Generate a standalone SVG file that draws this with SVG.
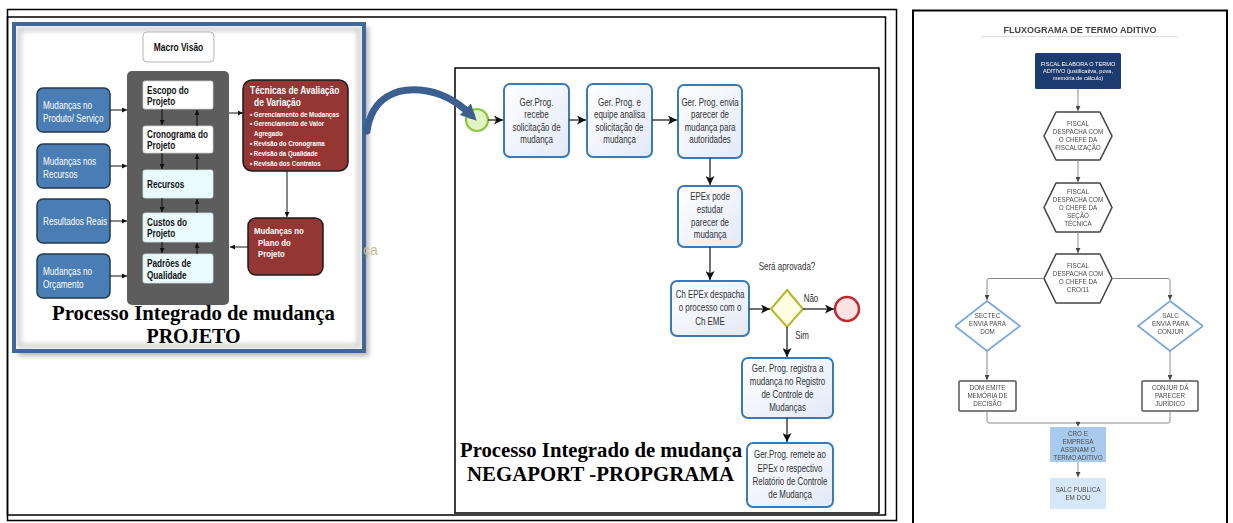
<svg xmlns="http://www.w3.org/2000/svg" width="1233" height="523" viewBox="0 0 1233 523">
  <defs>
    <style>
      .frame{fill:none;stroke:#000;stroke-width:1.5}
      .cal{font-family:"Liberation Sans",Arial,sans-serif}
      .calb{font-family:"Liberation Sans",Arial,sans-serif;font-weight:bold}
      .nl{transform-box:fill-box;transform-origin:0 50%;transform:scaleX(0.82)}
      .nc{transform-box:fill-box;transform-origin:50% 50%;transform:scaleX(0.78)}
      .serif{font-family:"Liberation Serif","Times New Roman",serif;font-weight:bold;font-size:20px;fill:#000}
      .inbox{fill:#fff;stroke:#cfcfcf;stroke-width:0.8}
      .inbox2{fill:#e9fbfd;stroke:#cfe3e6;stroke-width:0.8}
      .bluebox{fill:#4a7db3;stroke:#24384f;stroke-width:1.5}
      .bluetxt{font-size:10px;fill:#fff}
      .darkin{font-size:10px;fill:#111}
      .redbox{fill:#943634;stroke:#1a1a1a;stroke-width:1.5}
      .redtxt{fill:#fff}
      .thin{stroke:#111;stroke-width:1;fill:none}
      .step{fill:url(#stepfill);stroke:#3a7ab8;stroke-width:2}
      .steptxt{font-size:10.2px;fill:#333;text-anchor:middle}
      .flow{stroke:#333;stroke-width:1.4;fill:none}
      .rtxt{font-family:"Liberation Sans",Arial,sans-serif;font-size:6.3px;fill:#4a4a4a;text-anchor:middle}
      .wtxt{fill:#fff;font-size:5.6px}
      .hex{fill:#fff;stroke:#444;stroke-width:1.6;stroke-linejoin:round}
      .dia{fill:#fff;stroke:#74a3dc;stroke-width:1.6}
      .rbox{fill:#fff;stroke:#555;stroke-width:1.5}
      .rline{stroke:#8a8a8a;stroke-width:1;fill:none}
    </style>
    <linearGradient id="stepfill" x1="0" y1="0" x2="1" y2="1">
      <stop offset="0" stop-color="#ffffff"/>
      <stop offset="1" stop-color="#e3e9f8"/>
    </linearGradient>
    <filter id="soft" x="-10%" y="-10%" width="120%" height="120%">
      <feGaussianBlur stdDeviation="2.5"/>
    </filter>
    <filter id="haze" x="0" y="0" width="100%" height="100%">
      <feGaussianBlur stdDeviation="0.45"/>
    </filter>
    <marker id="ahSmall" viewBox="0 0 6 6" refX="6" refY="3" markerWidth="5" markerHeight="5" orient="auto" markerUnits="userSpaceOnUse">
      <path d="M0,0 L6,3 L0,6 z" fill="#111"/>
    </marker>
    <marker id="ah" viewBox="0 0 8 8" refX="8" refY="4" markerWidth="9" markerHeight="9" orient="auto" markerUnits="userSpaceOnUse">
      <path d="M0,0 L8,4 L0,8 L2,4 z" fill="#111"/>
    </marker>
    <marker id="ahR" viewBox="0 0 6 6" refX="6" refY="3" markerWidth="5" markerHeight="5" orient="auto" markerUnits="userSpaceOnUse">
      <path d="M0,0 L6,3 L0,6 z" fill="#444"/>
    </marker>
    <marker id="ahBig" viewBox="0 0 10 10" refX="5" refY="5" markerWidth="16" markerHeight="16" orient="auto" markerUnits="userSpaceOnUse">
      <path d="M0,0 L10,5 L0,10 z" fill="#3b5f8f"/>
    </marker>
  </defs>

  <rect width="1233" height="523" fill="#fff"/>

  <!-- outer double frame of the left sheet -->
  <rect class="frame" x="7.5" y="9.5" width="889" height="511"/>
  <rect class="frame" x="7.5" y="17" width="878" height="498"/>

  <!-- ===== PROJETO panel ===== -->
  <g id="projeto-panel">
    <rect x="18" y="27" width="351" height="329" fill="#9a9a9a" filter="url(#soft)" opacity="0.7"/>
    <rect x="14" y="24" width="350" height="327" fill="#fff"/>
    <rect x="19" y="29" width="340" height="317" fill="none" stroke="#c8c8c8" stroke-width="4" filter="url(#soft)"/>
    <rect x="14" y="24" width="350" height="327" fill="none" stroke="#3f6797" stroke-width="4"/>
    <text x="363" y="255" font-family="Liberation Sans,sans-serif" font-size="14" fill="#cbbd92">ça</text>
  </g>

  <g id="macro-visao">
    <rect x="143" y="32" width="71" height="30" rx="4" fill="#fff" stroke="#b5b5b5" stroke-width="1"/>
    <text class="calb nc" x="178.5" y="51" font-size="10.8" text-anchor="middle" fill="#111">Macro Visão</text>
  </g>

  <g id="core-column">
    <rect x="127" y="71" width="102" height="234" rx="5" fill="#5d5d5d"/>
  </g>
  <g id="escopo">
    <rect class="inbox" x="143" y="81" width="70" height="28" rx="2"/>
    <text class="calb darkin nl" x="147" y="94">Escopo do</text>
    <text class="calb darkin nl" x="147" y="105">Projeto</text>
  </g>
  <g id="cronograma">
    <rect class="inbox" x="143" y="126" width="70" height="27" rx="2"/>
    <text class="calb darkin nl" x="147" y="138">Cronograma do</text>
    <text class="calb darkin nl" x="147" y="149">Projeto</text>
  </g>
  <g id="recursos">
    <rect class="inbox2" x="143" y="170" width="70" height="28" rx="2"/>
    <text class="calb darkin nl" x="147" y="188">Recursos</text>
  </g>
  <g id="custos">
    <rect class="inbox2" x="143" y="213" width="70" height="29" rx="2"/>
    <text class="calb darkin nl" x="147" y="226">Custos do</text>
    <text class="calb darkin nl" x="147" y="237">Projeto</text>
  </g>
  <g id="padroes">
    <rect class="inbox2" x="143" y="254" width="70" height="29" rx="2"/>
    <text class="calb darkin nl" x="147" y="267">Padrões de</text>
    <text class="calb darkin nl" x="147" y="279">Qualidade</text>
  </g>

  <g id="mud-produto">
    <rect class="bluebox" x="37" y="88" width="73" height="44" rx="6"/>
    <text class="cal bluetxt nl" x="43" y="109">Mudanças no</text>
    <text class="cal bluetxt nl" x="43" y="122">Produto/ Serviço</text>
  </g>
  <g id="mud-recursos">
    <rect class="bluebox" x="37" y="144" width="73" height="44" rx="6"/>
    <text class="cal bluetxt nl" x="43" y="165">Mudanças nos</text>
    <text class="cal bluetxt nl" x="43" y="178">Recursos</text>
  </g>
  <g id="resultados">
    <rect class="bluebox" x="37" y="199" width="73" height="44" rx="6"/>
    <text class="cal bluetxt nl" x="43" y="225">Resultados Reais</text>
  </g>
  <g id="mud-orcamento">
    <rect class="bluebox" x="37" y="254" width="73" height="44" rx="6"/>
    <text class="cal bluetxt nl" x="43" y="275">Mudanças no</text>
    <text class="cal bluetxt nl" x="43" y="288">Orçamento</text>
  </g>

  <g id="tecnicas">
    <rect class="redbox" x="243" y="80" width="105" height="91" rx="9"/>
    <text class="calb redtxt nl" x="250" y="94" font-size="10.3">Técnicas de Avaliação</text>
    <text class="calb redtxt nl" x="254" y="106" font-size="10.3">de Variação</text>
    <g font-size="7.5">
      <text class="calb redtxt nl" x="250" y="117">• Gerenciamento de Mudanças</text>
      <text class="calb redtxt nl" x="250" y="126.5">• Gerenciamento de Valor</text>
      <text class="calb redtxt nl" x="254" y="136">Agregado</text>
      <text class="calb redtxt nl" x="250" y="146.5">• Revisão do Cronograma</text>
      <text class="calb redtxt nl" x="250" y="156.5">• Revisão da Qualidade</text>
      <text class="calb redtxt nl" x="250" y="166.5">• Revisão dos Contratos</text>
    </g>
  </g>
  <g id="mud-plano">
    <rect class="redbox" x="248" y="218" width="75" height="57" rx="8"/>
    <text class="calb redtxt nl" x="254" y="234.5" font-size="9.5">Mudanças no</text>
    <text class="calb redtxt nl" x="258" y="246" font-size="9.5">Plano do</text>
    <text class="calb redtxt nl" x="258" y="257.5" font-size="9.5">Projeto</text>
  </g>

  <g id="projeto-caption">
    <text class="serif" x="52" y="320" textLength="283" lengthAdjust="spacingAndGlyphs">Processo Integrado de mudança</text>
    <text class="serif" x="193.5" y="343" text-anchor="middle">PROJETO</text>
  </g>

  <!-- connectors of the PROJETO panel -->
  <g id="projeto-connectors">
    <line class="thin" x1="110" y1="110" x2="127" y2="110" marker-end="url(#ahSmall)"/>
    <line class="thin" x1="110" y1="166" x2="127" y2="166" marker-end="url(#ahSmall)"/>
    <line class="thin" x1="110" y1="221" x2="127" y2="221" marker-end="url(#ahSmall)"/>
    <line class="thin" x1="110" y1="276" x2="127" y2="276" marker-end="url(#ahSmall)"/>
    <line class="thin" x1="162" y1="109" x2="162" y2="125" marker-end="url(#ahSmall)"/>
    <line class="thin" x1="197" y1="126" x2="197" y2="110" marker-end="url(#ahSmall)"/>
    <line class="thin" x1="162" y1="153" x2="162" y2="169" marker-end="url(#ahSmall)"/>
    <line class="thin" x1="197" y1="170" x2="197" y2="154" marker-end="url(#ahSmall)"/>
    <line class="thin" x1="162" y1="198" x2="162" y2="212" marker-end="url(#ahSmall)"/>
    <line class="thin" x1="197" y1="213" x2="197" y2="199" marker-end="url(#ahSmall)"/>
    <line class="thin" x1="162" y1="242" x2="162" y2="253" marker-end="url(#ahSmall)"/>
    <line class="thin" x1="197" y1="254" x2="197" y2="243" marker-end="url(#ahSmall)"/>
    <line class="thin" x1="229" y1="113" x2="243" y2="113" marker-end="url(#ahSmall)"/>
    <line class="thin" x1="287" y1="171" x2="287" y2="217" marker-end="url(#ahSmall)"/>
    <line class="thin" x1="248" y1="247" x2="230" y2="247" marker-end="url(#ahSmall)"/>
  </g>

  <!-- ===== NEGAPORT panel ===== -->
  <rect class="frame" x="455" y="68" width="424" height="445"/>

  <g id="start-event">
    <circle cx="477" cy="120" r="11" fill="#e3f4c4" stroke="#8cc63e" stroke-width="2.2"/>
  </g>
  <g id="end-event">
    <circle cx="847" cy="309" r="12" fill="#fbe3e3" stroke="#be2a2e" stroke-width="2.5"/>
  </g>
  <g id="gateway">
    <path d="M787,290 L803,309 L787,327 L771,309 z" fill="#fdfde2" stroke="#b8b62a" stroke-width="2"/>
  </g>

  <g id="step-recebe">
    <rect class="step" x="504" y="84" width="65" height="73" rx="6"/>
    <text class="cal steptxt nc" x="536.5" y="106">Ger.Prog.</text>
    <text class="cal steptxt nc" x="536.5" y="118.5">recebe</text>
    <text class="cal steptxt nc" x="536.5" y="131">solicitação de</text>
    <text class="cal steptxt nc" x="536.5" y="143.5">mudança</text>
  </g>
  <g id="step-analisa">
    <rect class="step" x="587" y="84" width="65" height="73" rx="6"/>
    <text class="cal steptxt nc" x="619.5" y="106">Ger. Prog.  e</text>
    <text class="cal steptxt nc" x="619.5" y="118.5">equipe analisa</text>
    <text class="cal steptxt nc" x="619.5" y="131">solicitação de</text>
    <text class="cal steptxt nc" x="619.5" y="143.5">mudança</text>
  </g>
  <g id="step-envia">
    <rect class="step" x="678" y="85" width="64" height="73" rx="6"/>
    <text class="cal steptxt nc" x="710" y="106">Ger. Prog. envia</text>
    <text class="cal steptxt nc" x="710" y="118.5">parecer de</text>
    <text class="cal steptxt nc" x="710" y="131">mudança para</text>
    <text class="cal steptxt nc" x="710" y="143.5">autoridades</text>
  </g>
  <g id="step-epex">
    <rect class="step" x="678" y="186" width="64" height="61" rx="6"/>
    <text class="cal steptxt nc" x="710" y="200">EPEx pode</text>
    <text class="cal steptxt nc" x="710" y="213">estudar</text>
    <text class="cal steptxt nc" x="710" y="226">parecer de</text>
    <text class="cal steptxt nc" x="710" y="238.5">mudança</text>
  </g>
  <g id="step-despacha">
    <rect class="step" x="671" y="281" width="78" height="55" rx="6"/>
    <text class="cal steptxt nc" x="710" y="298.5">Ch EPEx despacha</text>
    <text class="cal steptxt nc" x="710" y="311.5">o processo com o</text>
    <text class="cal steptxt nc" x="710" y="325">Ch EME</text>
  </g>
  <g id="step-registra">
    <rect class="step" x="742" y="358" width="91" height="60" rx="6"/>
    <text class="cal steptxt nc" x="787.5" y="372">Ger. Prog. registra a</text>
    <text class="cal steptxt nc" x="787.5" y="385.5">mudança no Registro</text>
    <text class="cal steptxt nc" x="787.5" y="398.5">de Controle de</text>
    <text class="cal steptxt nc" x="787.5" y="411">Mudanças</text>
  </g>
  <g id="step-remete">
    <rect class="step" x="747" y="443" width="86" height="64" rx="6"/>
    <text class="cal steptxt nc" x="790" y="458">Ger.Prog. remete ao</text>
    <text class="cal steptxt nc" x="790" y="472">EPEx o respectivo</text>
    <text class="cal steptxt nc" x="790" y="485">Relatório de Controle</text>
    <text class="cal steptxt nc" x="790" y="498">de Mudança</text>
  </g>

  <g id="flow-labels" font-size="10.2" fill="#333">
    <text class="cal nc" x="787" y="270" text-anchor="middle">Será aprovada?</text>
    <text class="cal nc" x="811" y="302.5" text-anchor="middle">Não</text>
    <text class="cal nc" x="802" y="339" text-anchor="middle">Sim</text>
  </g>

  <g id="negaport-caption">
    <text class="serif" x="460" y="457" textLength="282" lengthAdjust="spacingAndGlyphs">Processo Integrado de mudança</text>
    <text class="serif" x="467" y="481" textLength="267" lengthAdjust="spacingAndGlyphs">NEGAPORT -PROPGRAMA</text>
  </g>

  <g id="negaport-connectors">
    <line class="flow" x1="488" y1="120" x2="503" y2="120" marker-end="url(#ah)"/>
    <line class="flow" x1="569" y1="120" x2="586" y2="120" marker-end="url(#ah)"/>
    <line class="flow" x1="652" y1="120" x2="677" y2="120" marker-end="url(#ah)"/>
    <line class="flow" x1="710" y1="158" x2="710" y2="185" marker-end="url(#ah)"/>
    <line class="flow" x1="710" y1="247" x2="710" y2="280" marker-end="url(#ah)"/>
    <line class="flow" x1="749" y1="309" x2="770" y2="309" marker-end="url(#ah)"/>
    <line class="flow" x1="803" y1="309" x2="834" y2="309" marker-end="url(#ah)"/>
    <line class="flow" x1="787" y1="327" x2="787" y2="357" marker-end="url(#ah)"/>
    <line class="flow" x1="787" y1="418" x2="787" y2="442" marker-end="url(#ah)"/>
  </g>

  <!-- link from the PROJETO panel into the process start -->
  <g id="link-arrow">
    <path d="M367,131 C372,96 398,88 420,90 C443,92 460,104 471,115" fill="none" stroke="#3b5f8f" stroke-width="7" stroke-linecap="round" marker-end="url(#ahBig)"/>
  </g>

  <!-- ===== Fluxograma de termo aditivo ===== -->
  <rect x="913" y="10.5" width="314" height="520" fill="none" stroke="#000" stroke-width="2"/>

  <g id="fluxograma" filter="url(#haze)">
    <g id="title">
      <text x="1080" y="33" font-family="Liberation Sans,Arial,sans-serif" font-weight="bold" font-size="9" fill="#444" text-anchor="middle">FLUXOGRAMA DE TERMO ADITIVO</text>
      <line x1="981" y1="36.5" x2="1178" y2="36.5" stroke="#ddd" stroke-width="1"/>
    </g>

    <g id="r-elabora">
      <rect x="1035" y="53" width="86" height="36" rx="1.5" fill="#1f3a6e"/>
      <text class="rtxt wtxt" x="1078" y="66">FISCAL ELABORA O TERMO</text>
      <text class="rtxt wtxt" x="1078" y="73">ADITIVO  (justificativa, pova,</text>
      <text class="rtxt wtxt" x="1078" y="80">memória de cálculo)</text>
    </g>

    <g id="r-hex-fiscalizacao">
      <path class="hex" d="M1056,112 L1100,112 L1112,136 L1100,160 L1056,160 L1044,136 z"/>
      <text class="rtxt" x="1078" y="126">FISCAL</text>
      <text class="rtxt" x="1078" y="134">DESPACHA COM</text>
      <text class="rtxt" x="1078" y="142">O CHEFE DA</text>
      <text class="rtxt" x="1078" y="150">FISCALIZAÇÃO</text>
    </g>

    <g id="r-hex-secao">
      <path class="hex" d="M1056,183 L1100,183 L1112,207.5 L1100,232 L1056,232 L1044,207.5 z"/>
      <text class="rtxt" x="1078" y="194">FISCAL</text>
      <text class="rtxt" x="1078" y="202">DESPACHA COM</text>
      <text class="rtxt" x="1078" y="210">O CHEFE DA</text>
      <text class="rtxt" x="1078" y="218">SEÇÃO</text>
      <text class="rtxt" x="1078" y="226">TÉCNICA</text>
    </g>

    <g id="r-hex-cro">
      <path class="hex" d="M1056,254 L1100,254 L1112,278.5 L1100,303 L1056,303 L1044,278.5 z"/>
      <text class="rtxt" x="1078" y="268">FISCAL</text>
      <text class="rtxt" x="1078" y="276">DESPACHA COM</text>
      <text class="rtxt" x="1078" y="284">O CHEFE DA</text>
      <text class="rtxt" x="1078" y="292">CRO/11</text>
    </g>

    <g id="r-sectec">
      <path class="dia" d="M987,301 L1020,326 L987,351 L955,326 z"/>
      <text class="rtxt" x="987.5" y="318">SECTEC</text>
      <text class="rtxt" x="987.5" y="326">ENVIA PARA</text>
      <text class="rtxt" x="987.5" y="334">DOM</text>
    </g>

    <g id="r-salc">
      <path class="dia" d="M1170,301 L1203,326 L1170,351 L1138,326 z"/>
      <text class="rtxt" x="1170.5" y="318">SALC</text>
      <text class="rtxt" x="1170.5" y="326">ENVIA PARA</text>
      <text class="rtxt" x="1170.5" y="334">CONJUR</text>
    </g>

    <g id="r-dom">
      <rect class="rbox" x="959" y="381" width="57" height="30" rx="1"/>
      <text class="rtxt" x="987.5" y="390">DOM EMITE</text>
      <text class="rtxt" x="987.5" y="398">MEMÓRIA DE</text>
      <text class="rtxt" x="987.5" y="406">DECISÃO</text>
    </g>

    <g id="r-conjur">
      <rect class="rbox" x="1142" y="381" width="56" height="30" rx="1"/>
      <text class="rtxt" x="1170" y="390">CONJUR DÁ</text>
      <text class="rtxt" x="1170" y="398">PARECER</text>
      <text class="rtxt" x="1170" y="406">JURÍDICO</text>
    </g>

    <g id="r-assinam">
      <rect x="1050" y="427" width="56" height="35" fill="#a8caed"/>
      <text class="rtxt" x="1078" y="436">CRO E</text>
      <text class="rtxt" x="1078" y="444">EMPRESA</text>
      <text class="rtxt" x="1078" y="452">ASSINAM O</text>
      <text class="rtxt" x="1078" y="460">TERMO ADITIVO</text>
    </g>

    <g id="r-publica">
      <rect x="1050" y="478" width="56" height="31" fill="#d6e7f8"/>
      <text class="rtxt" x="1078" y="492">SALC PUBLICA</text>
      <text class="rtxt" x="1078" y="500">EM DOU</text>
    </g>

    <g id="r-connectors">
      <line class="rline" x1="1078" y1="89" x2="1078" y2="111" marker-end="url(#ahR)"/>
      <line class="rline" x1="1078" y1="160" x2="1078" y2="182" marker-end="url(#ahR)"/>
      <line class="rline" x1="1078" y1="232" x2="1078" y2="253" marker-end="url(#ahR)"/>
      <path class="rline" d="M1044,278.5 H989 Q987,278.5 987,281 V300" marker-end="url(#ahR)"/>
      <path class="rline" d="M1112,278.5 H1168 Q1170,278.5 1170,281 V300" marker-end="url(#ahR)"/>
      <line class="rline" x1="987" y1="351" x2="987" y2="380" marker-end="url(#ahR)"/>
      <line class="rline" x1="1170" y1="351" x2="1170" y2="380" marker-end="url(#ahR)"/>
      <path class="rline" d="M987,411 V421 Q987,423 989,423 H1168 Q1170,423 1170,421 V411"/>
      <line class="rline" x1="1078" y1="423" x2="1078" y2="426.5" marker-end="url(#ahR)"/>
      <circle cx="1078" cy="423" r="1.6" fill="#444"/>
      <line class="rline" x1="1078" y1="462" x2="1078" y2="477" marker-end="url(#ahR)"/>
    </g>
  </g>
</svg>
